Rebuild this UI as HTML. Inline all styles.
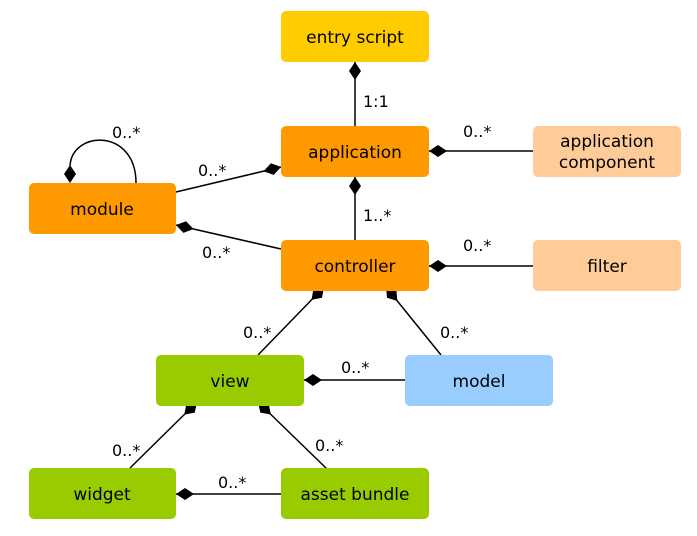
<!DOCTYPE html>
<html><head><meta charset="utf-8"><style>
html,body{margin:0;padding:0;background:#fff;}
svg text{font-family:"DejaVu Sans","Liberation Sans",sans-serif;font-size:16px;fill:#000;}
svg .b text{font-size:17px;}
</style></head><body>
<svg width="697" height="531" viewBox="0 0 697 531" xmlns="http://www.w3.org/2000/svg">
<g stroke="#000" stroke-width="1.5" fill="none">
<line x1="355" y1="62" x2="355" y2="126"/>
<line x1="429" y1="151" x2="533" y2="151"/>
<line x1="355" y1="177" x2="355" y2="240"/>
<line x1="429" y1="266" x2="533" y2="266"/>
<line x1="176" y1="192" x2="281" y2="167"/>
<line x1="176" y1="225" x2="281" y2="249"/>
<path d="M70,166 C72,130 136,128 136,183"/>
<line x1="324" y1="287" x2="258" y2="355"/>
<line x1="386" y1="287" x2="441" y2="355"/>
<line x1="304" y1="380" x2="405" y2="380"/>
<line x1="197" y1="402" x2="130" y2="468"/>
<line x1="258" y1="402" x2="327" y2="469"/>
<line x1="176" y1="494" x2="281" y2="494"/>
</g>
<g fill="#000">
<polygon points="355,62 361,71 355,80 349,71"/>
<polygon points="429,151 438,145 447,151 438,157"/>
<polygon points="355,177 361,186 355,195 349,186"/>
<polygon points="429,266 438,260 447,266 438,272"/>
<polygon points="281,167 273.7,174.9 263.5,171.2 270.9,163.3"/>
<polygon points="176,225 183.4,232.9 193.5,229 186.1,221.2"/>
<polygon points="70,183 76,174 70,165 64,174"/>
<polygon points="324,287 322,297.7 311.5,299.9 313.4,289.3"/>
<polygon points="386,287 387,297.8 397.3,301 396.4,290.2"/>
<polygon points="304,380 313,374 322,380 313,386"/>
<polygon points="197,402 194.8,412.6 184.2,414.6 186.4,404"/>
<polygon points="258,402 260.3,412.6 270.9,414.5 268.7,404"/>
<polygon points="176,494 185,488 194,494 185,500"/>
</g>
<g>
<rect x="281" y="11" width="148" height="51" rx="5" fill="#FFCC00"/>
<rect x="281" y="126" width="148" height="51" rx="5" fill="#FF9900"/>
<rect x="533" y="126" width="148" height="51" rx="5" fill="#FFCC99"/>
<rect x="29" y="183" width="147" height="51" rx="5" fill="#FF9900"/>
<rect x="281" y="240" width="148" height="51" rx="5" fill="#FF9900"/>
<rect x="533" y="240" width="148" height="51" rx="5" fill="#FFCC99"/>
<rect x="156" y="355" width="148" height="51" rx="5" fill="#99CC00"/>
<rect x="405" y="355" width="148" height="51" rx="5" fill="#99CCFF"/>
<rect x="29" y="468" width="147" height="51" rx="5" fill="#99CC00"/>
<rect x="281" y="468" width="148" height="51" rx="5" fill="#99CC00"/>
</g>
<g class="b" text-anchor="middle">
<text x="355" y="43">entry script</text>
<text x="355" y="158">application</text>
<text x="607" y="147">application</text>
<text x="607" y="168">component</text>
<text x="102" y="215">module</text>
<text x="355" y="272">controller</text>
<text x="607" y="272">filter</text>
<text x="230" y="387">view</text>
<text x="479" y="387">model</text>
<text x="102" y="500">widget</text>
<text x="355" y="500">asset bundle</text>
</g>
<g>
<text x="363" y="107">1:1</text>
<text x="463" y="137">0..*</text>
<text x="363" y="221">1..*</text>
<text x="463" y="251">0..*</text>
<text x="198" y="176">0..*</text>
<text x="202" y="258">0..*</text>
<text x="112" y="138">0..*</text>
<text x="243" y="338">0..*</text>
<text x="440" y="338">0..*</text>
<text x="341" y="373">0..*</text>
<text x="112" y="456">0..*</text>
<text x="315" y="451">0..*</text>
<text x="218" y="488">0..*</text>
</g>
</svg>
</body></html>
